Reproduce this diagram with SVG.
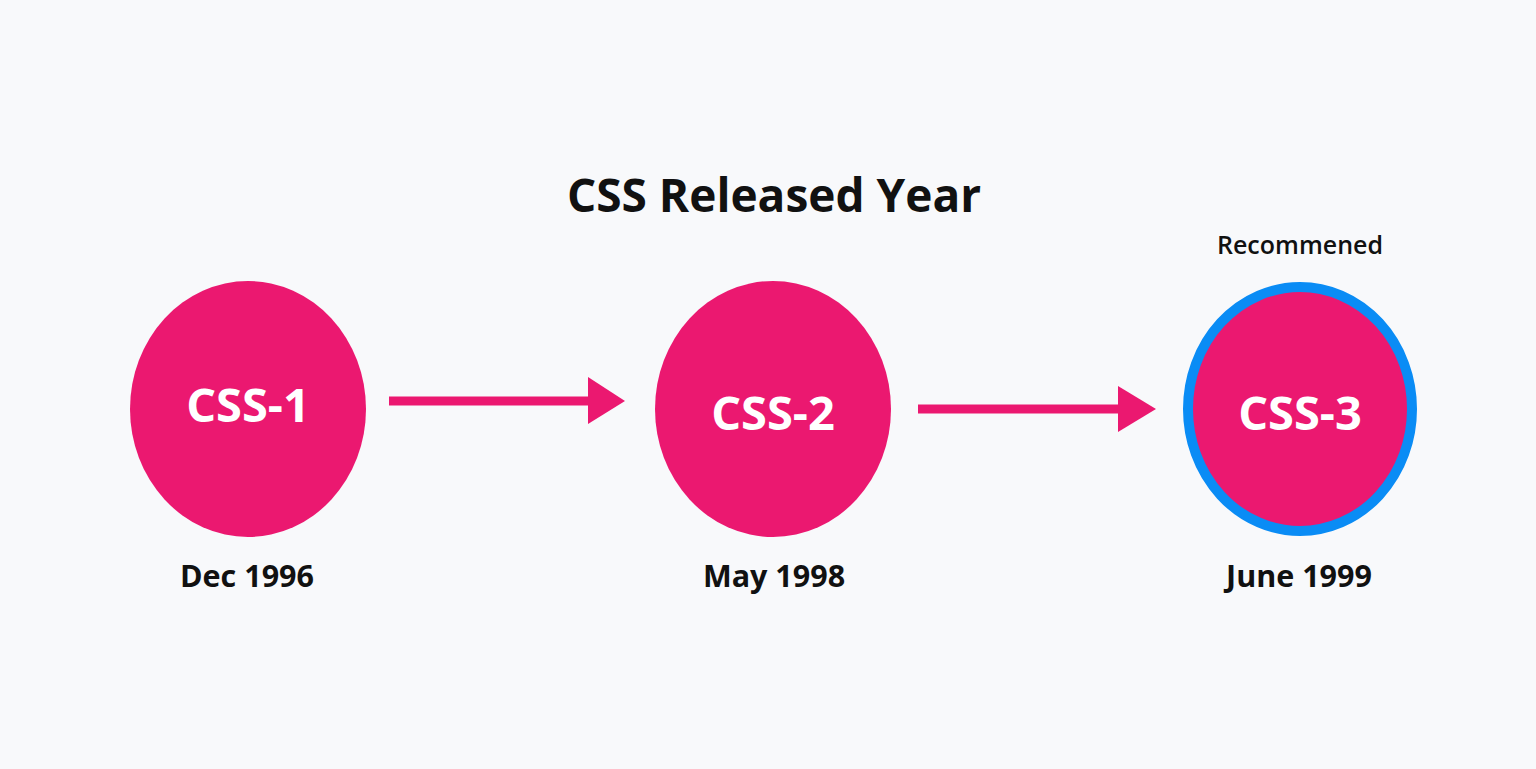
<svg xmlns="http://www.w3.org/2000/svg" width="1536" height="769" viewBox="0 0 1536 769">
<defs>
<style>
.bg{fill:#f8f9fb}
.node{fill:#eb1870}
.ring{stroke:#0a8cf5;stroke-width:10}
.lbl{font-family:"Open Sans","Noto Sans",sans-serif;font-weight:700;fill:#ffffff;text-anchor:middle;font-size:47px}
.date{font-family:"Open Sans","Noto Sans",sans-serif;font-weight:700;fill:#111111;text-anchor:middle;font-size:30.5px}
.title{font-family:"Open Sans","Noto Sans",sans-serif;font-weight:700;fill:#111111;text-anchor:middle;font-size:46px}
.note{font-family:"Open Sans","Noto Sans",sans-serif;font-weight:600;fill:#111111;text-anchor:middle;font-size:25px}
.conn{stroke:#eb1870;stroke-width:9;fill:none}
.head{fill:#eb1870}
</style>
</defs>
<rect class="bg" x="0" y="0" width="1536" height="769"/>
<text class="title" x="774" y="212">CSS Released Year</text>
<g id="connectors">
<line class="conn" x1="389" y1="401" x2="592" y2="401"/>
<polygon class="head" points="588,377 625,401 588,424"/>
<line class="conn" x1="918" y1="409" x2="1122" y2="409"/>
<polygon class="head" points="1118,386 1156,409 1118,432"/>
</g>
<g id="css1">
<ellipse class="node" cx="248" cy="409" rx="118" ry="128"/>
<text class="lbl" x="248" y="422">CSS-1</text>
<text class="date" x="247" y="587">Dec 1996</text>
</g>
<g id="css2">
<ellipse class="node" cx="773" cy="409" rx="118" ry="128"/>
<text class="lbl" x="773" y="430">CSS-2</text>
<text class="date" x="774" y="587">May 1998</text>
</g>
<g id="css3">
<text class="note" x="1300" y="254">Recommened</text>
<ellipse class="node ring" cx="1300" cy="409" rx="112" ry="122"/>
<text class="lbl" x="1300" y="430">CSS-3</text>
<text class="date" x="1299" y="587">June 1999</text>
</g>
</svg>
